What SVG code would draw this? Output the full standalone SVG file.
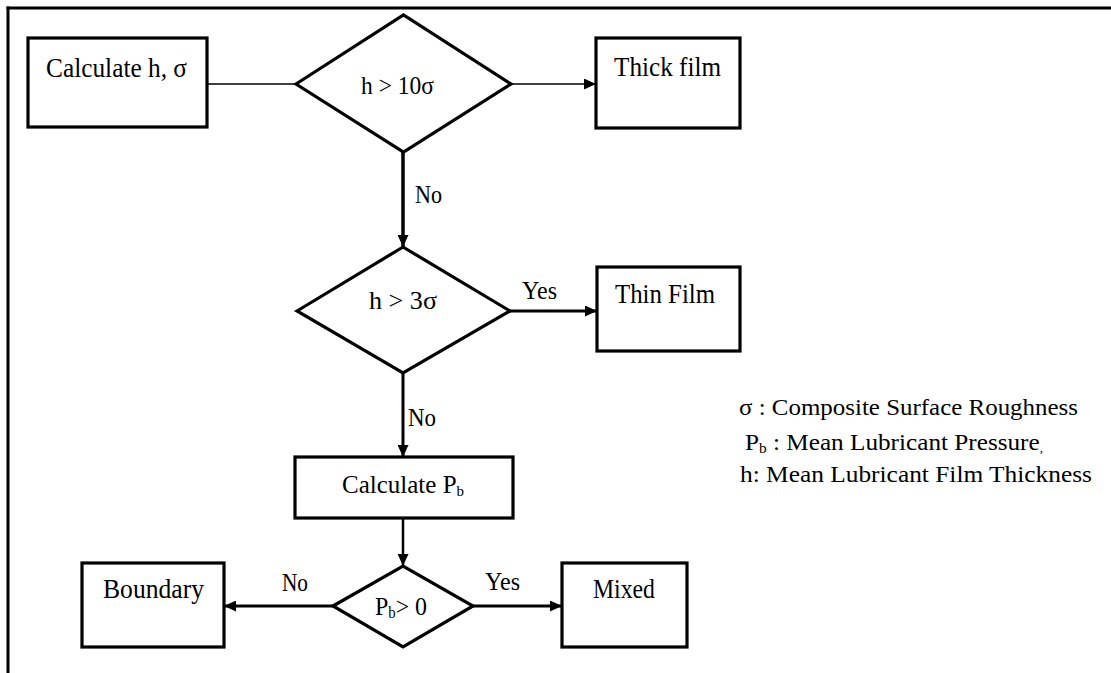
<svg xmlns="http://www.w3.org/2000/svg" width="1111" height="673" viewBox="0 0 1111 673">
<style>
  .shape { fill: #fff; stroke: #000; stroke-width: 3.2; }
  .conn { stroke: #000; fill: none; }
  text { font-family: "Liberation Serif", "Times New Roman", serif; fill: #000; }
  .t { font-size: 28px; }
  .lbl { font-size: 26px; }
  .leg { font-size: 23px; }
</style>
<defs>
  <marker id="arr" markerUnits="userSpaceOnUse" markerWidth="12" markerHeight="11" refX="12" refY="5.5" orient="auto">
    <path d="M0,0 L12,5.5 L0,11 z" fill="#000"/>
  </marker>
</defs>
<rect width="1111" height="673" fill="#fff"/>
<g id="frame">
  <line x1="6.5" y1="8" x2="1111" y2="8" stroke="#000" stroke-width="3"/>
  <line x1="8" y1="6.5" x2="8" y2="673" stroke="#000" stroke-width="3"/>
</g>
<g id="connectors">
  <line class="conn" x1="207" y1="84" x2="296" y2="84" stroke-width="1.6"/>
  <line class="conn" x1="511" y1="84" x2="596" y2="84" stroke-width="1.6" marker-end="url(#arr)"/>
  <line class="conn" x1="403" y1="152" x2="403" y2="247" stroke-width="3.5" marker-end="url(#arr)"/>
  <line class="conn" x1="510" y1="311" x2="597" y2="311" stroke-width="3" marker-end="url(#arr)"/>
  <line class="conn" x1="403" y1="373" x2="403" y2="457" stroke-width="3" marker-end="url(#arr)"/>
  <line class="conn" x1="403" y1="518" x2="403" y2="566" stroke-width="2.5" marker-end="url(#arr)"/>
  <line class="conn" x1="333" y1="606" x2="224" y2="606" stroke-width="3" marker-end="url(#arr)"/>
  <line class="conn" x1="473" y1="606" x2="562" y2="606" stroke-width="3" marker-end="url(#arr)"/>
  <text class="lbl" x="415" y="203" textLength="27" lengthAdjust="spacingAndGlyphs">No</text>
  <text class="lbl" x="522" y="299" textLength="35" lengthAdjust="spacingAndGlyphs">Yes</text>
  <text class="lbl" x="408" y="426" textLength="28" lengthAdjust="spacingAndGlyphs">No</text>
  <text class="lbl" x="282" y="591" textLength="26" lengthAdjust="spacingAndGlyphs">No</text>
  <text class="lbl" x="485" y="590" textLength="35" lengthAdjust="spacingAndGlyphs">Yes</text>
</g>
<g id="calc-h">
  <rect class="shape" x="28" y="38" width="179" height="89"/>
  <text class="t" x="46" y="77" textLength="141" lengthAdjust="spacingAndGlyphs">Calculate h, σ</text>
</g>
<g id="dec-10sigma">
  <polygon class="shape" points="296,84 403.5,15 511,84 403.5,152"/>
  <text class="lbl" x="361" y="94" textLength="73" lengthAdjust="spacingAndGlyphs">h &gt; 10σ</text>
</g>
<g id="thick-film">
  <rect class="shape" x="596" y="38" width="144" height="90"/>
  <text class="t" x="614" y="76" textLength="107" lengthAdjust="spacingAndGlyphs">Thick film</text>
</g>
<g id="dec-3sigma">
  <polygon class="shape" points="297,311 403,247 510,311 403,373"/>
  <text class="lbl" x="369" y="309" textLength="68" lengthAdjust="spacingAndGlyphs">h &gt; 3σ</text>
</g>
<g id="thin-film">
  <rect class="shape" x="597" y="267" width="143" height="84"/>
  <text class="t" x="615" y="303" textLength="100" lengthAdjust="spacingAndGlyphs">Thin Film</text>
</g>
<g id="calc-pb">
  <rect class="shape" x="295" y="457" width="218" height="61"/>
  <text x="342" y="493" font-size="25">Calculate P<tspan font-size="15" dy="3">b</tspan></text>
</g>
<g id="dec-pb">
  <polygon class="shape" points="333,606 403,566 473,606 403,647"/>
  <text class="lbl" x="375" y="615" textLength="52" lengthAdjust="spacingAndGlyphs">P<tspan font-size="16" dy="3">b</tspan><tspan dy="-3">&gt; 0</tspan></text>
</g>
<g id="boundary">
  <rect class="shape" x="82" y="563" width="142" height="84"/>
  <text class="t" x="103" y="598" textLength="101" lengthAdjust="spacingAndGlyphs">Boundary</text>
</g>
<g id="mixed">
  <rect class="shape" x="562" y="563" width="125" height="84"/>
  <text class="t" x="593" y="598" textLength="62" lengthAdjust="spacingAndGlyphs">Mixed</text>
</g>
<g id="legend">
  <text class="leg" x="739" y="415" textLength="339" lengthAdjust="spacingAndGlyphs">σ : Composite Surface Roughness</text>
  <text class="leg" x="745" y="450" textLength="298" lengthAdjust="spacingAndGlyphs">P<tspan font-size="14" dy="3">b</tspan><tspan dy="-3"> : Mean Lubricant Pressure</tspan><tspan font-size="12" dy="2">,</tspan></text>
  <text class="leg" x="740" y="482" textLength="352" lengthAdjust="spacingAndGlyphs">h: Mean Lubricant Film Thickness</text>
</g>
</svg>
